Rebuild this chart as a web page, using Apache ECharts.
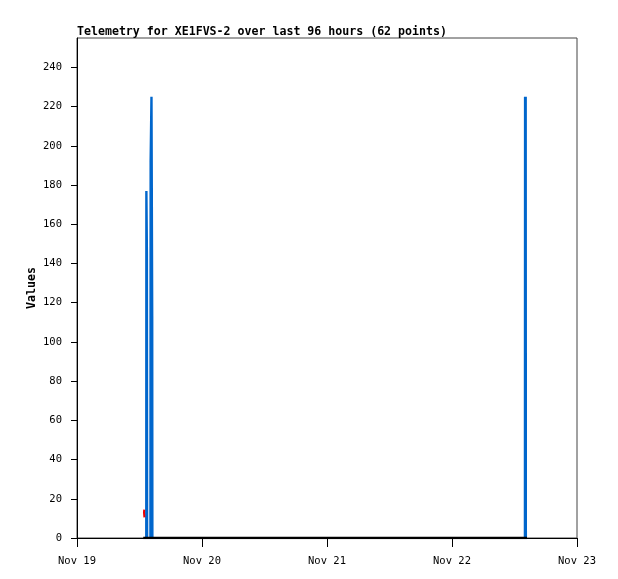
<!DOCTYPE html>
<html><head><meta charset="utf-8">
<script src="https://cdn.jsdelivr.net/npm/echarts@6/dist/echarts.min.js"></script>
<style>html,body{margin:0;padding:0;background:#fff}#c{width:618px;height:579px}</style>
</head><body><div id="c"></div>
<script>
// x values: hours since Nov 19 00:00
const titleText = 'Telemetry for XE1FVS-2 over last 96 hours (62 points)';
const xTickLabels = ['Nov 19', 'Nov 20', 'Nov 21', 'Nov 22', 'Nov 23'];
const yTicks = [0, 20, 40, 60, 80, 100, 120, 140, 160, 180, 200, 220, 240];
const blueHours = [13.30, 13.32, 13.42, 13.46, null, 14.10, 14.14, 14.30, 14.44, 14.47];
const blueValues = [0, 177, 145, 0, null, 0, 192, 225, 113, 0];
const blueHours2 = [86.06, 86.09, 86.12];
const blueValues2 = [0, 225, 0];
const redHours = [12.90, 12.86, 12.98, 12.94];
const redValues = [14.5, 13, 12, 10.5];
const blackHours = [12.72, 13.5, 14.5, 16, 20, 24, 30, 36, 42, 48, 54, 60, 66, 72, 78, 84, 86.4];
const blackValues = [0, 0, 0, 0, 0, 0, 0, 0, 0, 0, 0, 0, 0, 0, 0, 0, 0];

const zip = (a, b) => a.map((x, i) => x === null ? [null, null] : [x, b[i]]);
const mono = 'DejaVu Sans Mono';
const chart = echarts.init(document.getElementById('c'), null, {renderer: 'canvas'});
chart.setOption({
  animation: false,
  backgroundColor: '#fff',
  title: {
    text: titleText, left: 77, top: 26, padding: 0,
    textStyle: {fontFamily: mono, fontSize: 11.6, fontWeight: 'bold', color: '#000'}
  },
  grid: {left: 77, right: 41, top: 38, bottom: 41, show: true, borderColor: '#444', borderWidth: 1, backgroundColor: 'transparent'},
  xAxis: {
    type: 'value', min: 0, max: 96, interval: 24,
    axisLine: {show: true, lineStyle: {color: '#000', width: 1}},
    axisTick: {show: true, length: 9, lineStyle: {color: '#000'}},
    axisLabel: {fontFamily: mono, fontSize: 10.5, color: '#000', margin: 18,
      formatter: v => xTickLabels[Math.round(v / 24)] || ''},
    splitLine: {show: false}
  },
  yAxis: {
    type: 'value', min: 0, max: 255,
    name: 'Values', nameLocation: 'middle', nameGap: 39, nameMoveOverlap: false,
    nameTextStyle: {fontFamily: mono, fontSize: 11.6, fontWeight: 'bold', color: '#000'},
    axisLine: {show: true, lineStyle: {color: '#000', width: 1}},
    axisTick: {show: true, length: 6, customValues: yTicks, lineStyle: {color: '#000'}},
    axisLabel: {fontFamily: mono, fontSize: 10.5, color: '#000', margin: 15, customValues: yTicks},
    splitLine: {show: false}
  },
  series: [
    {type: 'line', data: zip(blueHours, blueValues), showSymbol: false, connectNulls: false,
      lineStyle: {color: '#0066cc', width: 2.4}, z: 2},
    {type: 'line', data: zip(blueHours2, blueValues2), showSymbol: false,
      lineStyle: {color: '#0066cc', width: 3}, z: 2},
    {type: 'line', data: zip(redHours, redValues), showSymbol: false,
      lineStyle: {color: '#ee0000', width: 2}, z: 3},
    {type: 'line', data: zip(blackHours, blackValues), showSymbol: false,
      lineStyle: {color: '#000', width: 2.5}, z: 4}
  ]
});
</script></body></html>
